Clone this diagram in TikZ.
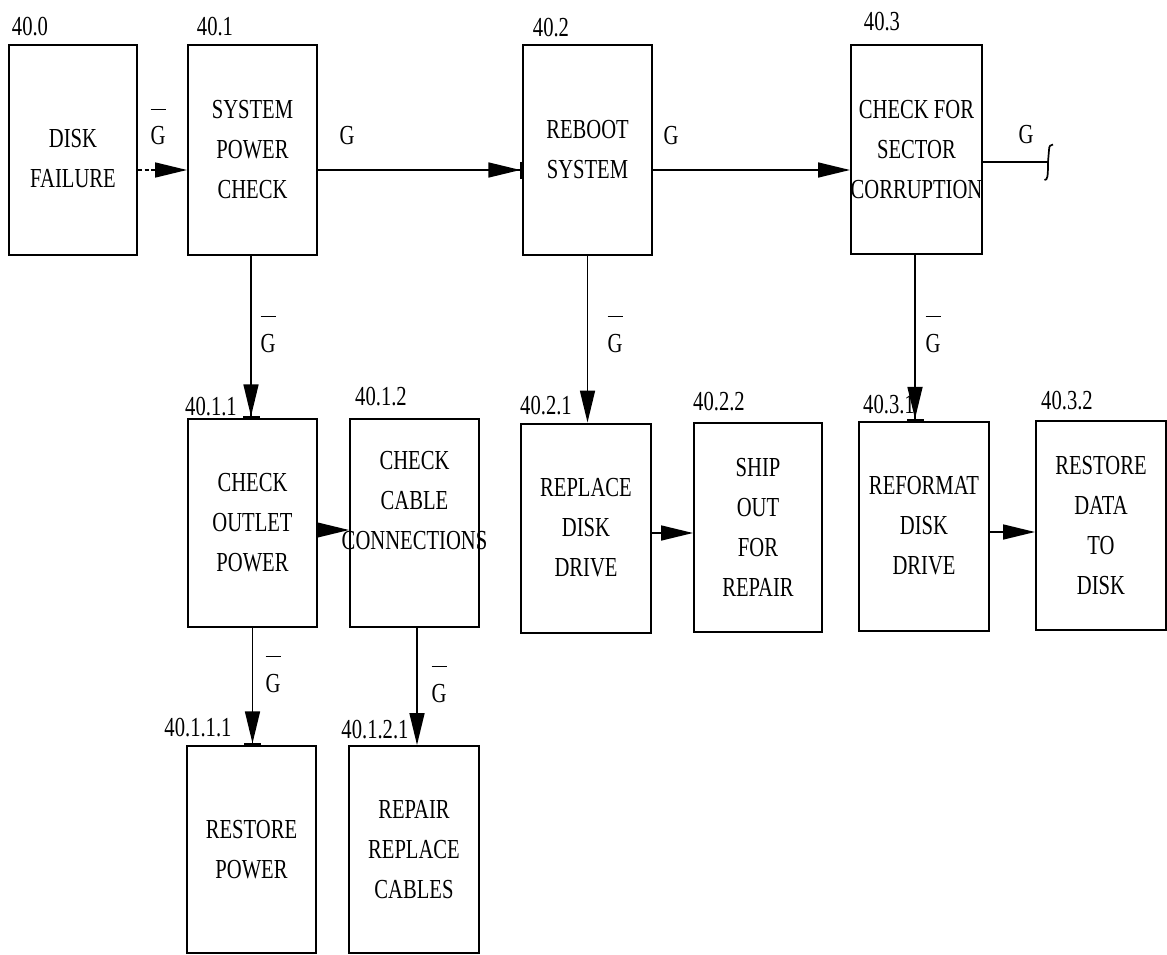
\documentclass[tikz,border=0pt]{standalone}
\usepackage{fontspec}
\setmainfont{Liberation Serif}[FakeStretch=0.75]
\usetikzlibrary{arrows.meta}
\newcommand\bx{\fontsize{27.5}{40}\selectfont}
\newcommand\gbarsym{\rlap{\raisebox{35pt}{\rule{15pt}{1.4pt}}}G}
\tikzset{
  blk/.style={draw, line width=2pt, minimum width=129pt, minimum height=209pt, inner sep=0pt, align=center, font=\bx},
  lbl/.style={font=\bx, inner sep=0pt},
  glab/.style={font=\bx, inner sep=0pt, anchor=base},
  arr/.style={line width=1.7pt, -{Triangle[length=32pt,width=15pt]}},
  arrbar/.style={line width=1.7pt, -{Triangle[length=32pt,width=15pt,sep=0pt]Bar[width=17pt]}},
}
\begin{document}
\begin{tikzpicture}[x=1pt,y=-1pt]
\useasboundingbox (0,0) rectangle (1167,955);
% top row
\node[blk, minimum width=128pt, minimum height=210pt] (b400) at (73,150) {\\[-4pt]DISK\\FAILURE};
\node[blk, minimum height=210pt] (b401) at (252.5,150) {SYSTEM\\POWER\\CHECK};
\node[blk, minimum height=210pt] (b402) at (587.5,150) {REBOOT\\SYSTEM};
\node[blk, minimum width=131pt, minimum height=209pt] (b403) at (916.5,149.5) {CHECK FOR\\SECTOR\\\makebox[120pt]{CORRUPTION}};
% second row
\node[blk, minimum height=208pt] (b4011) at (252.5,523) {CHECK\\OUTLET\\POWER};
\node[blk, minimum height=208pt] (b4012) at (414.5,523) {CHECK\\CABLE\\\makebox[120pt]{CONNECTIONS}\\[6pt]};
\node[blk, minimum width=130pt] (b4021) at (586,528) {REPLACE\\DISK\\DRIVE};
\node[blk, minimum width=128pt] (b4022) at (758,527.5) {SHIP\\OUT\\FOR\\REPAIR};
\node[blk, minimum width=130pt] (b4031) at (924,526) {REFORMAT\\DISK\\DRIVE};
\node[blk, minimum width=130pt] (b4032) at (1101,525.5) {RESTORE\\DATA\\TO\\DISK};
% third row
\node[blk, minimum height=207pt] (b40111) at (251.5,849.5) {RESTORE\\POWER};
\node[blk, minimum width=130pt, minimum height=207pt] (b40121) at (414,849.5) {REPAIR\\REPLACE\\CABLES};
% number labels
\node[lbl] (l400) at (30,27) {40.0};
\node[lbl] (l401) at (215,27) {40.1};
\node[lbl] (l402) at (551,28) {40.2};
\node[lbl] (l403) at (882,22) {40.3};
\node[lbl] (l4011) at (211,407) {40.1.1};
\node[lbl] (l4012) at (381,397) {40.1.2};
\node[lbl] (l4021) at (546,406) {40.2.1};
\node[lbl] (l4022) at (719,402) {40.2.2};
\node[lbl] (l4031) at (889,405) {40.3.1};
\node[lbl] (l4032) at (1067,401) {40.3.2};
\node[lbl] (l40111) at (198,728) {40.1.1.1};
\node[lbl] (l40121) at (375,730) {40.1.2.1};
% condition labels
\node[glab] (g1) at (158,145) {\gbarsym};
\node[glab] (g2) at (347,145) {G};
\node[glab] (g3) at (671,145) {G};
\node[glab] (g4) at (1026,143) {G};
\node[glab] (g5) at (268,352) {\gbarsym};
\node[glab] (g6) at (615,352) {\gbarsym};
\node[glab] (g7) at (933,352) {\gbarsym};
\node[glab] (g8) at (273,692) {\gbarsym};
\node[glab] (g9) at (439,702) {\gbarsym};
% connectors
\draw[arr, dash pattern=on 4pt off 2.5pt] ([yshift=-20pt]b400.east) -- ([yshift=-20pt]b401.west);
\draw[arrbar] ([yshift=-20pt]b401.east) -- ([yshift=-20pt]b402.west);
\draw[arr] ([yshift=-20pt]b402.east) -- ([yshift=-20.5pt]b403.west);
\coordinate (hook) at (1048,162);
\draw[line width=1.7pt] ([yshift=-12.5pt]b403.east) -- (hook);
\draw[line width=1.7pt] (1044.5,180) .. controls (1047.5,180) and (1048,177) .. (hook) -- (1049,150) .. controls (1049,146) and (1050.5,144.5) .. (1053,144.5);
\draw[arrbar] ([xshift=-1.5pt]b401.south) -- ([xshift=-1.5pt]b401.south |- b4011.north);
\draw[arr] (b402.south) -- (b402.south |- b4021.north);
\draw[arrbar] ([xshift=-1.5pt]b403.south) -- ([xshift=-1.5pt]b403.south |- b4031.north);
\draw[arr] ([yshift=-7pt]b4011.east) -- ([yshift=-7pt]b4012.west);
\draw[arr] ([yshift=-5pt]b4021.east) -- ([yshift=-5.5pt]b4022.west);
\draw[arr] ([yshift=-6pt]b4031.east) -- ([yshift=-6.5pt]b4032.west);
\draw[arrbar] (b4011.south) -- (b4011.south |- b40111.north);
\draw[arr] ([xshift=2.5pt]b4012.south) -- ([xshift=2.5pt]b4012.south |- b40121.north);
\end{tikzpicture}
\end{document}
